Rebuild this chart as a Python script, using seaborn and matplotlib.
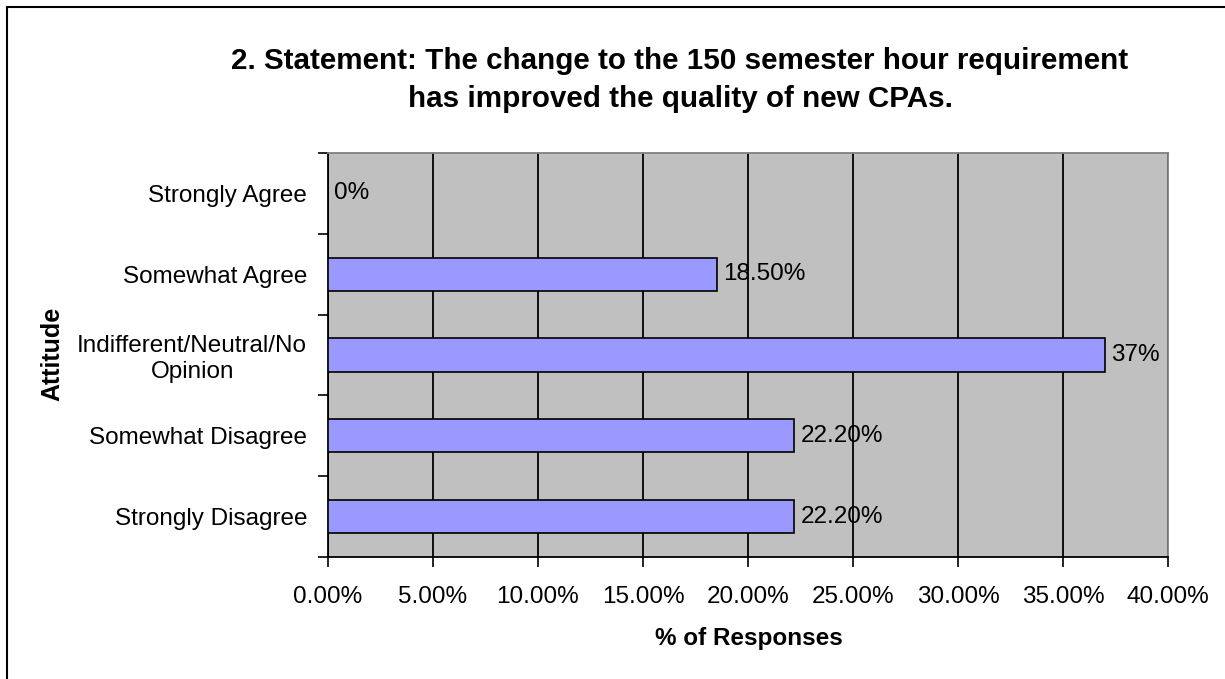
import matplotlib
matplotlib.use("Agg")
import matplotlib.pyplot as plt
import matplotlib.patches as mpatches
from matplotlib.ticker import FixedLocator, PercentFormatter
import seaborn as sns
import pandas as pd

# data
attitudes = ["Strongly Agree", "Somewhat Agree", "Indifferent/Neutral/No\nOpinion",
             "Somewhat Disagree", "Strongly Disagree"]
pct_values = [0.0, 18.5, 37.0, 22.2, 22.2]
bar_labels = ["0%", "18.50%", "37%", "22.20%", "22.20%"]
x_ticks = [0, 5, 10, 15, 20, 25, 30, 35, 40]

df = pd.DataFrame({"attitude": attitudes, "pct": pct_values})

sns.set_theme(style="white")
plt.rcParams["font.family"] = ["Liberation Sans", "DejaVu Sans"]
plt.rcParams["text.color"] = "black"
plt.rcParams["axes.labelcolor"] = "black"
plt.rcParams["xtick.color"] = "black"
plt.rcParams["ytick.color"] = "black"

fig = plt.figure(figsize=(12.25, 6.79), dpi=100)
ax = fig.add_axes([328 / 1225, 1 - 557 / 679, (1168 - 328) / 1225, (557 - 153) / 679])
ax.set_facecolor("#C0C0C0")

sns.barplot(data=df, x="pct", y="attitude", orient="h", order=attitudes,
            color="#9999FF", saturation=1, edgecolor="black", linewidth=1.2,
            width=0.41, ax=ax, zorder=3)

ax.set_xlim(0, 40)
ax.set_ylim(4.5, -0.5)
ax.xaxis.set_major_locator(FixedLocator(x_ticks))
ax.xaxis.set_major_formatter(PercentFormatter(decimals=2))
ax.grid(axis="x", color="black", linewidth=1.3, zorder=0)
ax.set_axisbelow(True)

# category boundary ticks like Excel
ax.yaxis.set_minor_locator(FixedLocator([-0.5, 0.5, 1.5, 2.5, 3.5, 4.5]))
ax.tick_params(axis="y", which="major", length=0, labelsize=17.5, pad=15)
ax.tick_params(axis="y", which="minor", length=7, width=1.2, color="black", direction="out", left=True)
ax.tick_params(axis="x", which="major", length=7, width=1.2, color="black", direction="out",
               bottom=True, labelsize=17.5, pad=14)
for lbl in ax.get_yticklabels():
    lbl.set_multialignment("center")

for side in ["left", "bottom"]:
    ax.spines[side].set_color("black")
    ax.spines[side].set_linewidth(1.3)
for side in ["top", "right"]:
    ax.spines[side].set_color("#808080")
    ax.spines[side].set_linewidth(1.3)

for i, (v, t) in enumerate(zip(pct_values, bar_labels)):
    ax.text(v + 0.3, i, t, va="center", ha="left", fontsize=17.5, color="black", zorder=4)

ax.set_xlabel("% of Responses", fontsize=17.5, fontweight="bold")
ax.xaxis.set_label_coords((749 - 328) / 840, -(638 - 557) / 404)
ax.xaxis.label.set_va("center")
ax.set_ylabel("Attitude", fontsize=18, fontweight="bold")
ax.yaxis.set_label_coords(-(328 - 52) / 840, (557 - 354) / 404)
ax.yaxis.label.set_va("center")

fig.text(680 / 1225, 1 - 80 / 679,
         "2. Statement: The change to the 150 semester hour requirement\nhas improved the quality of new CPAs.",
         ha="center", va="center", fontsize=21.3, fontweight="bold", linespacing=1.45)

# chart area border (right/bottom edges are outside the picture)
fig.patches.append(mpatches.Rectangle((7 / 1225, -0.1), 1.2, 1 - 7 / 679 + 0.1,
                                      transform=fig.transFigure, fill=False,
                                      edgecolor="black", linewidth=1.5))

fig.savefig("out.png", dpi=100)
